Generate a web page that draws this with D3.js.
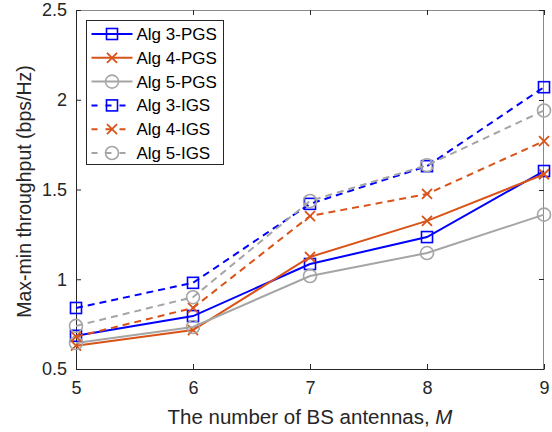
<!doctype html>
<html>
<head>
<meta charset="utf-8">
<script src="https://cdn.jsdelivr.net/npm/d3@7"></script>
<style>
  body { margin: 0; background: #fff; }
  svg { font-family: "Liberation Sans", Arial, sans-serif; }
</style>
</head>
<body>
<div id="chart"></div>
<script>
// data
var antennas = [5, 6, 7, 8, 9];
var alg3PGS = [0.685, 0.795, 1.085, 1.235, 1.603];
var alg4PGS = [0.630, 0.717, 1.124, 1.325, 1.585];
var alg5PGS = [0.645, 0.734, 1.018, 1.146, 1.360];
var alg3IGS = [0.840, 0.980, 1.420, 1.630, 2.070];
var alg4IGS = [0.680, 0.840, 1.352, 1.475, 1.770];
var alg5IGS = [0.740, 0.900, 1.436, 1.635, 1.940];
var yTicks = [0.5, 1, 1.5, 2, 2.5];

var series = [
  { name: "Alg 3-PGS", values: alg3PGS, color: "#0000ff", marker: "square", dash: null },
  { name: "Alg 4-PGS", values: alg4PGS, color: "#d95319", marker: "cross", dash: null },
  { name: "Alg 5-PGS", values: alg5PGS, color: "#a5a5a5", marker: "circle", dash: null },
  { name: "Alg 3-IGS", values: alg3IGS, color: "#0000ff", marker: "square", dash: "7,5" },
  { name: "Alg 4-IGS", values: alg4IGS, color: "#d95319", marker: "cross", dash: "7,5" },
  { name: "Alg 5-IGS", values: alg5IGS, color: "#a5a5a5", marker: "circle", dash: "7,5" }
];

var W = 552, H = 432;
var margin = { top: 10, right: 8, bottom: 63, left: 76 };
var width = W - margin.left - margin.right,
    height = H - margin.top - margin.bottom;

var svg = d3.select("#chart").append("svg")
  .attr("width", W).attr("height", H);
var g = svg.append("g")
  .attr("transform", "translate(" + margin.left + "," + margin.top + ")");

var x = d3.scaleLinear().domain([5, 9]).range([0, width]);
var y = d3.scaleLinear().domain([0.5, 2.5]).range([height, 0]);

// box (top/right)
g.append("line").attr("x1", 0).attr("x2", width).attr("y1", 0.5).attr("y2", 0.5)
  .attr("stroke", "#8a8a8a");
g.append("line").attr("x1", width - 0.5).attr("x2", width - 0.5).attr("y1", 0).attr("y2", height)
  .attr("stroke", "#8a8a8a");

// ticks on top and right
antennas.forEach(function (v) {
  g.append("line").attr("x1", Math.round(x(v)) + 0.5).attr("x2", Math.round(x(v)) + 0.5)
    .attr("y1", 0).attr("y2", 5).attr("stroke", "#262626");
});
yTicks.forEach(function (v) {
  g.append("line").attr("x1", width - 5).attr("x2", width)
    .attr("y1", Math.round(y(v)) + 0.5).attr("y2", Math.round(y(v)) + 0.5).attr("stroke", "#262626");
});

var xAxis = g.append("g")
  .attr("transform", "translate(0," + height + ")")
  .call(d3.axisBottom(x).tickValues(antennas).tickFormat(d3.format("d")).tickSizeInner(-5).tickSizeOuter(0).tickPadding(12));
var yAxis = g.append("g")
  .call(d3.axisLeft(y).tickValues(yTicks).tickFormat(function (d) { return d; }).tickSizeInner(-5).tickSizeOuter(0).tickPadding(9));

[xAxis, yAxis].forEach(function (a) {
  a.select(".domain").attr("stroke", "#262626");
  a.selectAll(".tick line").attr("stroke", "#262626");
  a.selectAll(".tick text").attr("fill", "#262626").style("font-size", "18px")
    .style("font-family", "Liberation Sans, Arial, sans-serif");
});

// axis titles
svg.append("text")
  .attr("x", margin.left + width / 2).attr("y", 424)
  .attr("text-anchor", "middle").attr("fill", "#262626").style("font-size", "20.5px")
  .html('The number of BS antennas, <tspan font-style="italic">M</tspan>');
svg.append("text")
  .attr("transform", "translate(31," + (margin.top + height / 2 + 2) + ") rotate(-90)")
  .attr("text-anchor", "middle").attr("fill", "#262626").style("font-size", "19.5px")
  .text("Max-min throughput (bps/Hz)");

function drawMarker(sel, type, color, cx, cy) {
  if (type === "square") {
    sel.append("rect").attr("x", cx - 5.5).attr("y", cy - 5.5).attr("width", 11).attr("height", 11)
      .attr("fill", "none").attr("stroke", color).attr("stroke-width", 1.6);
  } else if (type === "circle") {
    sel.append("circle").attr("cx", cx).attr("cy", cy).attr("r", 6.5)
      .attr("fill", "none").attr("stroke", color).attr("stroke-width", 1.6);
  } else {
    var s = 5;
    sel.append("path").attr("d", "M" + (cx - s) + "," + (cy - s) + "L" + (cx + s) + "," + (cy + s) +
      "M" + (cx - s) + "," + (cy + s) + "L" + (cx + s) + "," + (cy - s))
      .attr("fill", "none").attr("stroke", color).attr("stroke-width", 1.8);
  }
}

var line = d3.line().x(function (d, i) { return x(antennas[i]); }).y(function (d) { return y(d); });

series.forEach(function (s) {
  var sg = g.append("g");
  sg.append("path").datum(s.values).attr("d", line)
    .attr("fill", "none").attr("stroke", s.color).attr("stroke-width", 2)
    .attr("stroke-dasharray", s.dash);
  s.values.forEach(function (v, i) {
    drawMarker(sg, s.marker, s.color, x(antennas[i]), y(v));
  });
});

// legend
var lg = svg.append("g").attr("transform", "translate(86.5,20.5)");
lg.append("rect").attr("width", 137).attr("height", 144)
  .attr("fill", "#fff").attr("stroke", "#262626").attr("stroke-width", 1);
series.forEach(function (s, i) {
  var yy = 13.5 + i * 23.8;
  lg.append("line").attr("x1", 5).attr("x2", 46).attr("y1", yy).attr("y2", yy)
    .attr("stroke", s.color).attr("stroke-width", 2).attr("stroke-dasharray", s.dash ? "6,8" : null);
  drawMarker(lg, s.marker, s.color, 25.5, yy);
  lg.append("text").attr("x", 50).attr("y", yy + 6).attr("fill", "#000")
    .style("font-size", "17px").text(s.name);
});
</script>
</body>
</html>
